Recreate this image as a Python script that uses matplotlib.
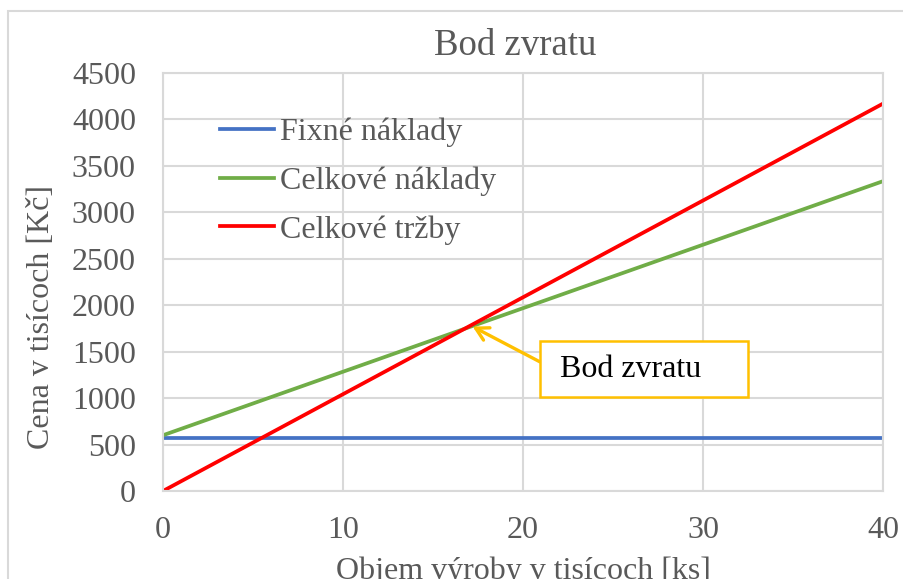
import matplotlib

matplotlib.use("Agg")
import matplotlib.pyplot as plt
from matplotlib.patches import Rectangle

GREY = "#595959"
GRID = "#d9d9d9"
BLUE, GREEN, RED, GOLD = "#4472c4", "#70ad47", "#ff0000", "#ffc000"

plt.rcParams["font.family"] = ["Liberation Serif", "DejaVu Serif"]

# Objem výroby (tis. ks) and the three cost / revenue series (tis. Kč)
objem = [0, 10, 20, 30, 40]
fixne_naklady = [570, 570, 570, 570, 570]
celkove_naklady = [600, 1284, 1968, 2651, 3335]
celkove_trzby = [0, 1042, 2085, 3127, 4170]
bod_zvratu = (17.2, 1770)

fig = plt.figure(figsize=(9.04, 5.79), dpi=100)
ax = fig.add_axes([0.1803, 0.152, 0.7965, 0.722])

# outer chart-area frame, running off the right and bottom edges
fig.patches.append(Rectangle((8 / 904, -0.1), 1.2, 1 - 11 / 579 + 0.1,
                             transform=fig.transFigure, fill=False,
                             edgecolor=GRID, linewidth=1.5))

ax.plot(objem, fixne_naklady, color=BLUE, linewidth=2.7, label="Fixné náklady")
ax.plot(objem, celkove_naklady, color=GREEN, linewidth=2.7, label="Celkové náklady")
ax.plot(objem, celkove_trzby, color=RED, linewidth=2.7, label="Celkové tržby")

ax.set_xlim(0, 40)
ax.set_ylim(0, 4500)
ax.set_xticks(range(0, 41, 10))
ax.set_yticks(range(0, 4501, 500))
ax.grid(True, color=GRID, linewidth=1.5)
ax.set_axisbelow(True)
for side in ax.spines.values():
    side.set_color(GRID)
    side.set_linewidth(1.5)
ax.tick_params(length=0, labelsize=23, labelcolor=GREY)
ax.tick_params(axis="x", pad=18)
ax.tick_params(axis="y", pad=19.5)

fig.text(515 / 904, 1 - 55 / 579, "Bod zvratu", fontsize=26.5, color=GREY,
         ha="center", va="baseline")
ax.set_xlabel("Objem výroby v tisícoch [ks]", fontsize=23, color=GREY, labelpad=8)
ax.set_ylabel("Cena v tisícoch [Kč]", fontsize=23, color=GREY, va="center")
ax.yaxis.set_label_coords(-0.169, 0.416)

ax.legend(loc="upper left", bbox_to_anchor=(0.079, 0.893), frameon=False,
          fontsize=23, labelcolor=GREY, handlelength=1.7, handletextpad=0.18,
          labelspacing=0.6, borderpad=0, borderaxespad=0)

# callout box with an arrow pointing at the break-even point
ax.add_patch(Rectangle((20.94, 1012), 11.56, 603, facecolor="white",
                       edgecolor=GOLD, linewidth=1.8, zorder=4))
ax.text(22.06, 1313, "Bod zvratu", fontsize=23, color="black",
        va="center", ha="left", zorder=5)
ax.annotate("", xy=bod_zvratu, xytext=(20.94, 1390),
            arrowprops=dict(arrowstyle="->,head_length=0.9,head_width=0.5",
                            color=GOLD, lw=2.4, shrinkA=0, shrinkB=0))

fig.savefig("out.png")
